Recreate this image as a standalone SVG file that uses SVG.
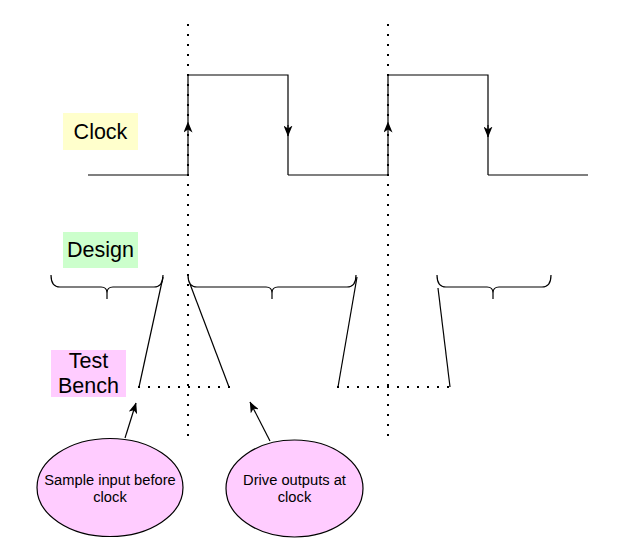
<svg xmlns="http://www.w3.org/2000/svg" width="617" height="557" viewBox="0 0 617 557">
  <style>
    .ln { fill: none; stroke: #000; stroke-width: 1.2; }
    .dot { fill: none; stroke: #000; stroke-width: 2; stroke-dasharray: 2 8; }
    .lbl { font-family: "Liberation Sans", Arial, sans-serif; font-size: 21.5px; fill: #000; text-anchor: middle; }
    .etx { font-family: "Liberation Sans", Arial, sans-serif; font-size: 14.7px; fill: #000; text-anchor: middle; }
    .ell { fill: #FFCCFF; stroke: #000; stroke-width: 1.2; }
  </style>
  <defs>
    <marker id="arr" viewBox="0 0 11 9" refX="10.5" refY="4.5" markerWidth="11" markerHeight="9" markerUnits="userSpaceOnUse" orient="auto">
      <path d="M0,0 L11,4.5 L0,9 L3,4.5 Z" fill="#000"/>
    </marker>
  </defs>
  <rect width="617" height="557" fill="#fff"/>

  <g id="clock-label">
    <rect x="63" y="113" width="75" height="37" fill="#FFFFCC"/>
    <text class="lbl" x="100.5" y="138.5">Clock</text>
  </g>
  <g id="design-label">
    <rect x="63" y="232" width="75" height="36" fill="#CCFFCC"/>
    <text class="lbl" x="100.5" y="257">Design</text>
  </g>
  <g id="testbench-label">
    <rect x="51" y="350" width="75" height="47" fill="#FFCCFF"/>
    <text class="lbl" x="88.5" y="367.5">Test</text>
    <text class="lbl" x="88.5" y="393">Bench</text>
  </g>

  <g id="clock-wave">
    <path class="ln" d="M88,175 H188 M188,122 V75 H288 V135 M288,175 H388 M388,122 V75 H488 V136 M488,175 H588"/>
    <path class="ln" d="M188,175 V122" marker-end="url(#arr)"/>
    <path class="ln" d="M288,125 V136" marker-end="url(#arr)"/>
    <path class="ln" d="M288,135 V175"/>
    <path class="ln" d="M388,175 V122" marker-end="url(#arr)"/>
    <path class="ln" d="M488,125 V137" marker-end="url(#arr)"/>
    <path class="ln" d="M488,136 V175"/>
  </g>

  <g id="clock-edge-markers">
    <line class="dot" x1="188" y1="24" x2="188" y2="440"/>
    <line class="dot" x1="388" y1="24" x2="388" y2="440"/>
  </g>

  <g id="brace-1">
    <path class="ln" d="M51,275 Q51,287 60,287 L101,287 Q107,287 107,293 L107,299 M107,293 Q107,287 113,287 L154,287 Q163,287 163,275"/>
  </g>
  <g id="brace-2">
    <path class="ln" d="M188,275 Q188,287 197,287 L266,287 Q272,287 272,293 L272,299 M272,293 Q272,287 278,287 L347,287 Q356,287 356,275"/>
  </g>
  <g id="brace-3">
    <path class="ln" d="M437,275 Q437,287 446,287 L487,287 Q493,287 493,293 L493,299 M493,293 Q493,287 499,287 L542,287 Q551,287 551,275"/>
  </g>

  <g id="testbench-window-1">
    <path class="ln" d="M163,277 L139,387"/>
    <path class="ln" d="M190,284 L229,387"/>
    <line class="dot" x1="138" y1="387" x2="232" y2="387"/>
  </g>
  <g id="testbench-window-2">
    <path class="ln" d="M357,277 L338,387"/>
    <path class="ln" d="M438,288 L450,387"/>
    <line class="dot" x1="337" y1="387" x2="452" y2="387"/>
  </g>

  <g id="sample-note">
    <ellipse class="ell" cx="110" cy="487.5" rx="73" ry="49"/>
    <text class="etx" x="110" y="484.5">Sample input before</text>
    <text class="etx" x="110" y="502">clock</text>
  </g>
  <g id="drive-note">
    <ellipse class="ell" cx="294.5" cy="488.5" rx="68.5" ry="48.5"/>
    <text class="etx" x="294.5" y="484.5">Drive outputs at</text>
    <text class="etx" x="294.5" y="502">clock</text>
  </g>

  <g id="connectors">
    <path class="ln" d="M125,438 L136,403" marker-end="url(#arr)"/>
    <path class="ln" d="M270,441 L250,402" marker-end="url(#arr)"/>
  </g>
</svg>
